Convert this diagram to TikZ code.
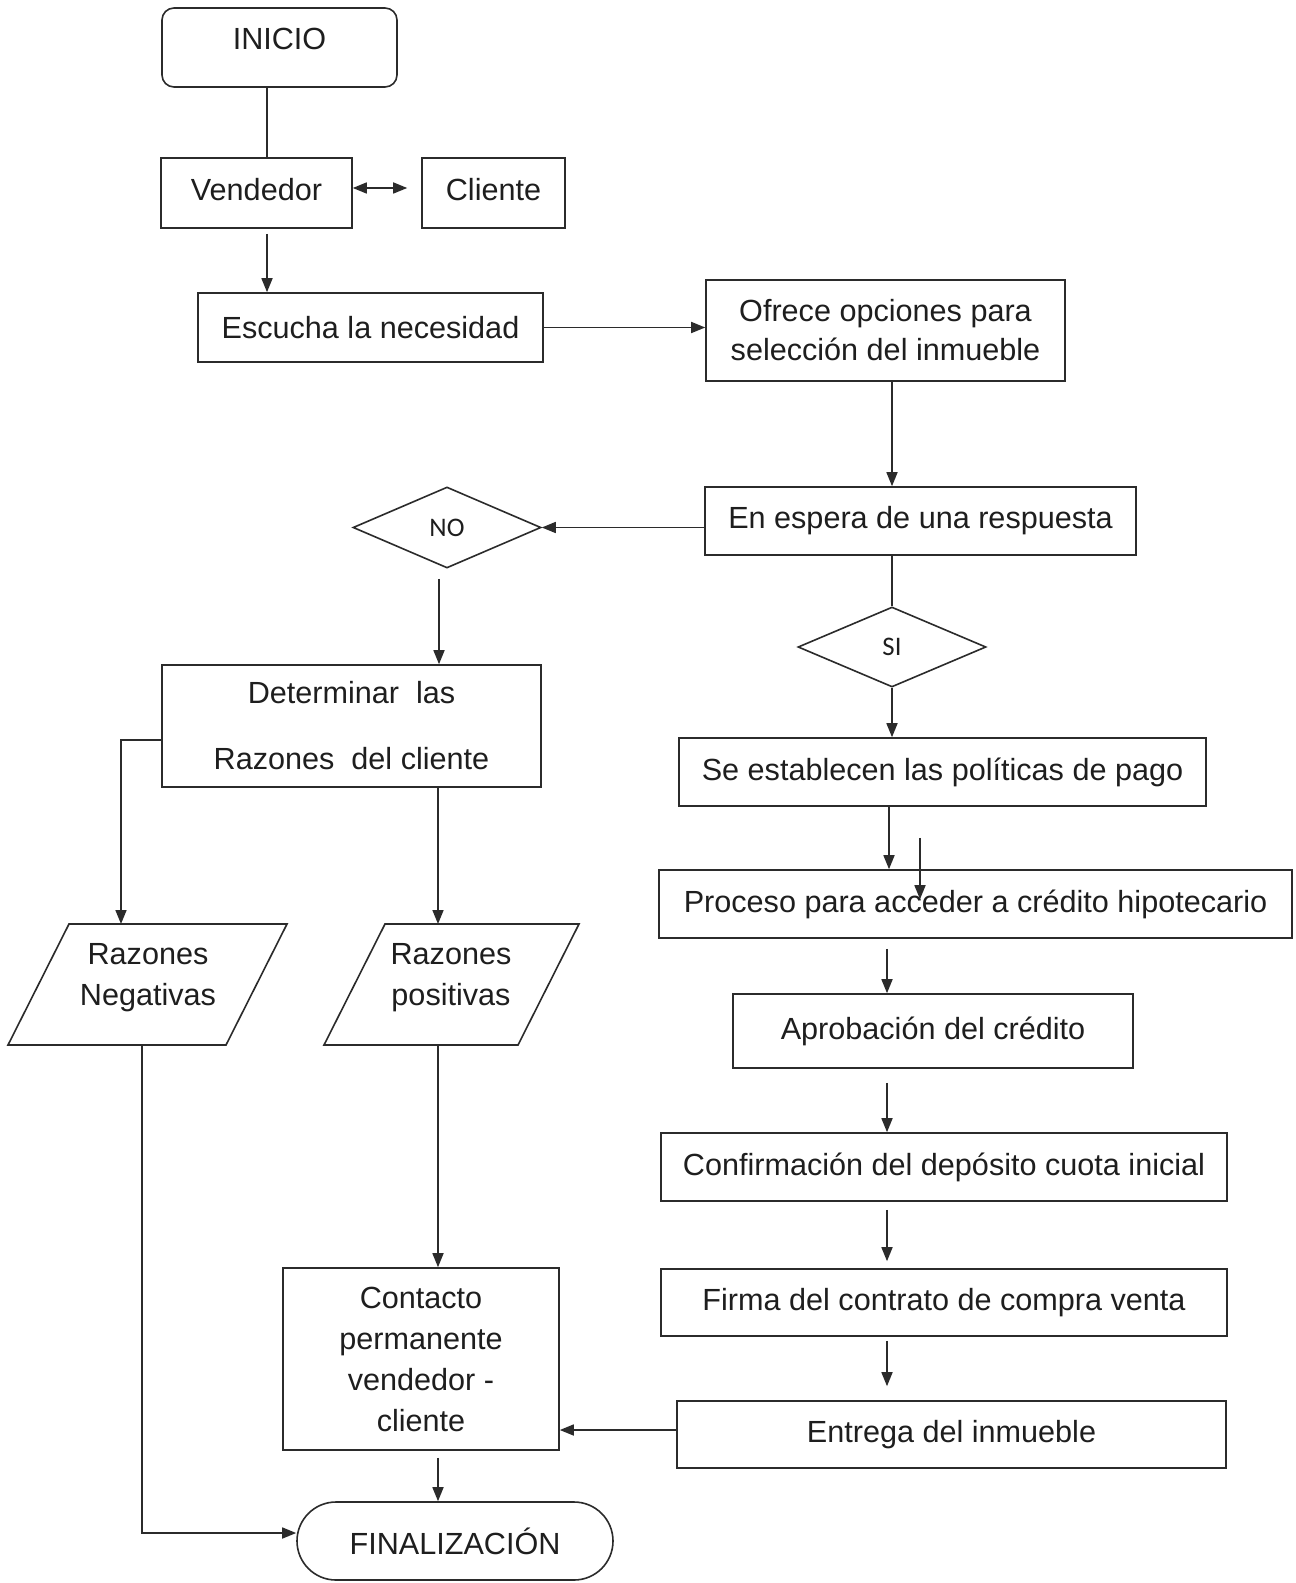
\documentclass[tikz,border=0pt]{standalone}
\usepackage{fontspec}
\setmainfont{Liberation Sans}
\newfontfamily\calibfont{Carlito}
\usetikzlibrary{arrows.meta,shapes.geometric}
\definecolor{lc}{HTML}{2B2B2B}
\definecolor{tc}{HTML}{1E1E1E}
\newcommand\mainsz{\fontsize{15.3pt}{20.5pt}\selectfont}
\begin{document}
\begin{tikzpicture}[x=0.5pt,y=-0.5pt,
  box/.style={draw=lc, line width=0.8pt, rectangle, inner sep=0pt, text=tc, font=\mainsz, align=center},
  startbox/.style={box, rounded corners=6pt},
  txt/.style={inner sep=0pt, text=tc, font=\mainsz, align=center},
  dec/.style={draw=lc, line width=0.8pt, diamond, inner sep=0pt, text=tc, font={\calibfont\fontsize{13.4pt}{16pt}\selectfont}},
  ln/.style={draw=lc, line width=0.8pt},
  arr/.style={ln, -{Triangle[length=7pt,width=5.5pt]}},
  darr/.style={ln, {Triangle[length=7pt,width=5.5pt]}-{Triangle[length=7pt,width=5.5pt]}}]
\useasboundingbox (0,0) rectangle (1295,1583);
\fill[white] (0,0) rectangle (1295,1583);

% nodes
\node[startbox, minimum width=117.5pt, minimum height=39.5pt] (inicio) at (279.5,47.5) {};
\node[txt] (iniciotxt) at ([yshift=4.25pt]inicio.center) {INICIO};
\node[box, minimum width=95.5pt, minimum height=35pt] (vend) at (256.5,193) {\raisebox{4pt}{Vendedor}};
\node[box, minimum width=71.5pt, minimum height=35pt] (cli) at (493.5,193) {\raisebox{4pt}{Cliente}};
\node[box, minimum width=172.5pt, minimum height=34.5pt] (esc) at (370.5,327.5) {Escucha la necesidad};
\node[box, minimum width=179.5pt, minimum height=50.5pt, font={\fontsize{15.3pt}{19.5pt}\selectfont}] (ofr) at (885.5,330.5) {Ofrece opciones para\\selección del inmueble};
\node[box, minimum width=215.5pt, minimum height=34pt] (esp) at (920.5,521) {En espera de una respuesta};
\node[dec, minimum width=94pt, minimum height=40.5pt] (no) at (447,527.5) {NO};
\node[dec, minimum width=94pt, minimum height=40pt] (si) at (892,647) {SI};
\node[box, minimum width=189.5pt, minimum height=61pt, font={\fontsize{15.3pt}{33pt}\selectfont}] (det) at (351.5,726) {Determinar\ \ las\\Razones\ \ del cliente};
\node[box, minimum width=263.5pt, minimum height=34pt] (se) at (942.5,772) {Se establecen las políticas de pago};
\node[box, minimum width=316.5pt, minimum height=34pt] (proc) at (975.5,904) {Proceso para acceder a crédito hipotecario};
\node[box, minimum width=200pt, minimum height=37pt] (aprob) at (933,1031) {Aprobación del crédito};
\node[box, minimum width=283pt, minimum height=34pt] (conf) at (944,1167) {Confirmación del depósito cuota inicial};
\node[box, minimum width=283pt, minimum height=33.5pt] (firma) at (944,1302.5) {Firma del contrato de compra venta};
\node[box, minimum width=274.5pt, minimum height=33.5pt] (entr) at (951.5,1434.5) {Entrega del inmueble};
\node[box, minimum width=138pt, minimum height=91pt] (cont) at (421,1359) {Contacto\\permanente\\vendedor -\\cliente};
\node[box, minimum width=158pt, minimum height=39pt, rounded corners=19.5pt] (fin) at (455,1541) {FINALIZACIÓN};

% parallelograms
\coordinate (rnTL) at (69,924);
\coordinate (rnTR) at (287,924);
\coordinate (rnBR) at (226,1045);
\coordinate (rnBL) at (8,1045);
\draw[ln] (rnTL) -- (rnTR) -- (rnBR) -- (rnBL) -- cycle;
\node[txt] (rneg) at (148,978) {Razones\\Negativas};
\coordinate (rpTL) at (385,924);
\coordinate (rpTR) at (579,924);
\coordinate (rpBR) at (518,1045);
\coordinate (rpBL) at (324,1045);
\draw[ln] (rpTL) -- (rpTR) -- (rpBR) -- (rpBL) -- cycle;
\node[txt] (rpos) at (451,978) {Razones\\positivas};

% helper coordinates
\coordinate (xa) at (267,0);
\coordinate (ya) at (0,188);
\coordinate (xb) at (892,0);
\coordinate (xc) at (439,0);
\coordinate (xd) at (889,0);
\coordinate (xe) at (920,0);
\coordinate (xf) at (887,0);
\coordinate (xg) at (438,0);
\coordinate (ye) at (0,1430);
\coordinate (d1) at (121,740);
\coordinate (f1) at (142,1533);

% connectors
\draw[ln] (inicio.south -| xa) -- (vend.north -| xa);
\draw[arr, shorten <=2.5pt] (vend.south -| xa) -- (esc.north -| xa);
\draw[darr, shorten >=7pt] (vend.east |- ya) -- (cli.west |- ya);
\draw[arr] (esc.east) -- (esc.east -| ofr.west);
\draw[arr] (ofr.south -| xb) -- (esp.north -| xb);
\draw[arr] (no.east -| esp.west) -- (no.east);
\draw[arr, shorten <=5pt] (no.south -| xc) -- (det.north -| xc);
\draw[ln] (esp.south -| xb) -- (si.north);
\draw[arr] (si.south) -- (se.north -| si.south);
\draw[arr] (se.south -| xd) -- (proc.north -| xd);
\draw[arr, shorten <=15.5pt, shorten >=-15pt] (se.south -| xe) -- (proc.north -| xe);
\draw[arr, shorten <=5pt] (proc.south -| xf) -- (aprob.north -| xf);
\draw[arr, shorten <=7pt] (aprob.south -| xf) -- (conf.north -| xf);
\draw[arr, shorten <=4pt, shorten >=3.5pt] (conf.south -| xf) -- (firma.north -| xf);
\draw[arr, shorten <=2pt, shorten >=7pt] (firma.south -| xf) -- (entr.north -| xf);
\draw[arr] (entr.west |- ye) -- (cont.east |- ye);
\draw[arr, shorten <=3.5pt] (cont.south -| xg) -- (fin.north -| xg);
\draw[arr] (det.south -| xg) -- (xg |- rpTL);
\draw[arr] (xg |- rpBL) -- (cont.north -| xg);
\draw[arr] (det.west |- d1) -- (d1) -- (d1 |- rnTL);
\draw[arr] (f1 |- rnBL) -- (f1) -- (f1 -| fin.west);
\end{tikzpicture}
\end{document}
